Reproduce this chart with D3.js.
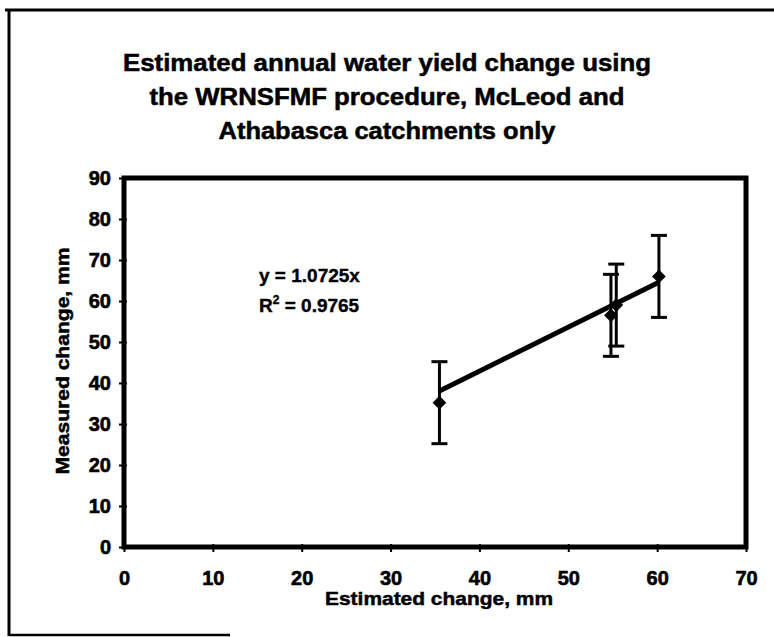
<!DOCTYPE html>
<html>
<head>
<meta charset="utf-8">
<script src="https://cdn.jsdelivr.net/npm/d3@7/dist/d3.min.js"></script>
<style>
  html, body { margin: 0; padding: 0; background: #fff; }
  svg { display: block; }
  text { font-family: "Liberation Sans", Arial, sans-serif; font-weight: bold; fill: #000; }
</style>
</head>
<body>
<script>
// ---- data ----
const titleLines = [
  "Estimated annual water yield change using",
  "the WRNSFMF procedure, McLeod and",
  "Athabasca catchments only"
];
const estimated = [35.5, 54.8, 55.4, 60.2];
const measured  = [35.2, 56.5, 59.0, 66.0];
const errorPlus  = [10, 10, 10, 10];
const errorMinus = [10, 10, 10, 10];
const trendSlope = 1.0725;
const equationLines = ["y = 1.0725x", "R2 = 0.9765"];
const xTicks = [0, 10, 20, 30, 40, 50, 60, 70];
const yTicks = [0, 10, 20, 30, 40, 50, 60, 70, 80, 90];
const xTitle = "Estimated change, mm";
const yTitle = "Measured change, mm";

// ---- layout ----
const W = 774, H = 637;
const svg = d3.select("body").append("svg").attr("width", W).attr("height", H);

// outer frame (partial, as in scan)
svg.append("line").attr("x1", 9).attr("y1", 9).attr("x2", 9).attr("y2", 636)
  .attr("stroke", "#000").attr("stroke-width", 3);
svg.append("line").attr("x1", 5).attr("y1", 10).attr("x2", 774).attr("y2", 10)
  .attr("stroke", "#000").attr("stroke-width", 3);
svg.append("line").attr("x1", 9).attr("y1", 635).attr("x2", 230).attr("y2", 635)
  .attr("stroke", "#000").attr("stroke-width", 2.5);

const x = d3.scaleLinear().domain([0, 70]).range([124, 746]);
const y = d3.scaleLinear().domain([0, 90]).range([547, 178]);

// title
const titleWidths = [528, 475, 337];
const titleY = [71, 105, 139];
titleLines.forEach((t, i) => {
  svg.append("text").attr("x", 387).attr("y", titleY[i])
    .attr("text-anchor", "middle").attr("font-size", 23)
    .attr("textLength", titleWidths[i]).attr("lengthAdjust", "spacingAndGlyphs")
    .attr("stroke", "#000").attr("stroke-width", 0.5)
    .text(t);
});

// plot area border
svg.append("rect")
  .attr("x", x(0)).attr("y", y(90))
  .attr("width", x(70) - x(0)).attr("height", y(0) - y(90))
  .attr("fill", "none").attr("stroke", "#000").attr("stroke-width", 5);

// y axis
const yAxis = svg.append("g").attr("transform", `translate(${x(0)},0)`)
  .call(d3.axisLeft(y).tickValues(yTicks).tickSize(5).tickPadding(8).tickFormat(d3.format("d")));
yAxis.select(".domain").remove();
yAxis.selectAll(".tick line").attr("x1", 3).attr("stroke-width", 2);
yAxis.selectAll(".tick text").attr("font-size", 20).attr("stroke", "#000").attr("stroke-width", 0.6)
  .attr("font-family", "Liberation Sans, Arial, sans-serif").attr("font-weight", "bold").attr("fill", "#000");

// x axis
const xAxis = svg.append("g").attr("transform", `translate(0,${y(0)})`)
  .call(d3.axisBottom(x).tickValues(xTicks).tickSize(5).tickPadding(19).tickFormat(d3.format("d")));
xAxis.select(".domain").remove();
xAxis.selectAll(".tick line").attr("y1", -3).attr("stroke-width", 2);
xAxis.selectAll(".tick text").attr("font-size", 20).attr("stroke", "#000").attr("stroke-width", 0.6)
  .attr("font-family", "Liberation Sans, Arial, sans-serif").attr("font-weight", "bold").attr("fill", "#000");

// axis titles
svg.append("text").attr("x", 439).attr("y", 605).attr("text-anchor", "middle")
  .attr("font-size", 19).attr("textLength", 228).attr("lengthAdjust", "spacingAndGlyphs")
  .attr("stroke", "#000").attr("stroke-width", 0.5).text(xTitle);
svg.append("text").attr("transform", "translate(69,361) rotate(-90)").attr("text-anchor", "middle")
  .attr("font-size", 19).attr("textLength", 227).attr("lengthAdjust", "spacingAndGlyphs")
  .attr("stroke", "#000").attr("stroke-width", 0.5).text(yTitle);

const pts = estimated.map((e, i) => ({ x: e, y: measured[i], ep: errorPlus[i], em: errorMinus[i] }));

// error bars
const eb = svg.append("g").attr("stroke", "#000");
pts.forEach(p => {
  eb.append("line").attr("x1", x(p.x)).attr("x2", x(p.x))
    .attr("y1", y(p.y + p.ep)).attr("y2", y(p.y - p.em)).attr("stroke-width", 3);
  [p.y + p.ep, p.y - p.em].forEach(v => {
    eb.append("line").attr("x1", x(p.x) - 8).attr("x2", x(p.x) + 8)
      .attr("y1", y(v)).attr("y2", y(v)).attr("stroke-width", 3);
  });
});

// trendline
const xMin = d3.min(estimated), xMax = d3.max(estimated);
svg.append("line")
  .attr("x1", x(xMin)).attr("y1", y(trendSlope * xMin))
  .attr("x2", x(xMax)).attr("y2", y(trendSlope * xMax))
  .attr("stroke", "#000").attr("stroke-width", 5);

// markers
svg.append("g").selectAll("path").data(pts).join("path")
  .attr("transform", d => `translate(${x(d.x)},${y(d.y)})`)
  .attr("d", d3.symbol().type(d3.symbolDiamond2).size(120))
  .attr("fill", "#000");

// equation
const eq = svg.append("text").attr("x", 259).attr("y", 282).attr("font-size", 19)
  .attr("stroke", "#000").attr("stroke-width", 0.4);
eq.text(equationLines[0]);
const r2 = svg.append("text").attr("x", 259).attr("y", 312).attr("font-size", 19)
  .attr("stroke", "#000").attr("stroke-width", 0.4);
r2.append("tspan").text("R");
r2.append("tspan").attr("dy", -8).attr("font-size", 12).text("2");
r2.append("tspan").attr("dy", 8).text(equationLines[1].slice(2));
</script>
</body>
</html>
